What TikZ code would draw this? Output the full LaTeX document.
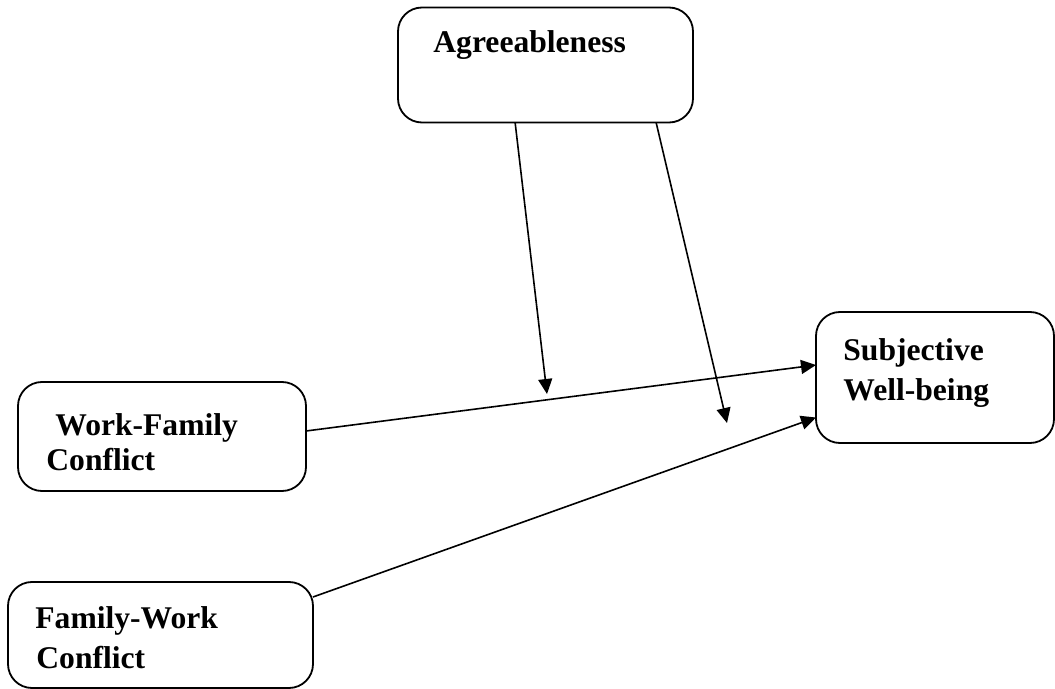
\documentclass[tikz,border=0pt]{standalone}
\usepackage{fontspec}
\setmainfont{Liberation Serif}
\usetikzlibrary{arrows.meta,calc}
\begin{document}
\begin{tikzpicture}[x=0.5bp,y=-0.5bp,
  box/.style={draw,line width=0.9bp,rounded corners=12bp,inner sep=0pt,outer sep=0pt},
  lbl/.style={anchor=base west,inner sep=0pt,font=\fontsize{15.8bp}{20bp}\selectfont\bfseries},
  conn/.style={line width=0.8bp,-{Triangle[length=7.5bp,width=7bp]}},
  plain/.style={line width=0.8bp}]
\useasboundingbox (0,0) rectangle (1055,689);
\node[box,minimum width=147.5bp,minimum height=57.5bp] (agr) at (545.5,65) {};
\node[box,minimum width=119bp,minimum height=65.5bp] (subj) at (935,377.5) {};
\node[box,minimum width=144bp,minimum height=54.5bp] (wfc) at (162,436.5) {};
\node[box,minimum width=152.5bp,minimum height=53bp] (fwc) at (160.5,635) {};
\node[lbl] (tagr) at (433,53) {Agreeableness};
\node[lbl] (tsubj1) at (843,360) {Subjective};
\node[lbl] (tsubj2) at (843,401) {Well-being};
\node[lbl] (twfc1) at (55,435) {Work-Family};
\node[lbl] (twfc2) at (46,470) {Conflict};
\node[lbl] (tfwc1) at (35,628) {Family-Work};
\node[lbl] (tfwc2) at (36,668) {Conflict};
\coordinate (m1) at (547,394);
\coordinate (m2) at (727,423);
\draw[conn] ($(agr.south west)!0.397!(agr.south east)$) -- (m1);
\draw[conn] ($(agr.south west)!0.875!(agr.south east)$) -- (m2);
\draw[conn] ($(wfc.east)+(0,-5.5)$) -- ($(subj.west)+(0,-12.5)$);
\draw[conn] ($(fwc.east)+(0,-38)$) -- ($(subj.west)+(0,40)$);
\end{tikzpicture}
\end{document}
